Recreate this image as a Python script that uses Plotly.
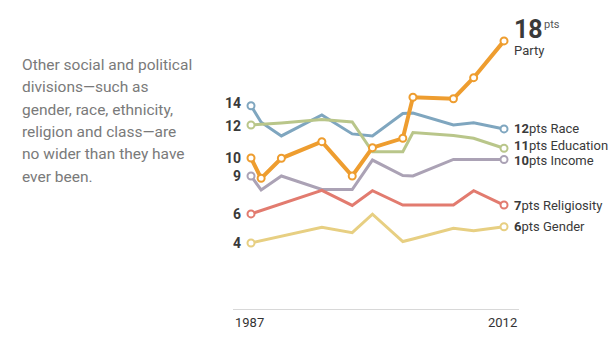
import plotly.graph_objects as go

years = [1987, 1988, 1990, 1994, 1997, 1999, 2002, 2003, 2007, 2009, 2012]

party = [10.23, 8.84, 10.21, 11.35, 9.00, 10.94, 11.58, 14.39, 14.29, 15.73, 18.25]
race = [13.81, 12.68, 11.74, 13.18, 11.88, 11.74, 13.28, 13.31, 12.49, 12.65, 12.22]
education = [12.49, 12.53, 12.63, 12.87, 12.70, 10.66, 10.66, 11.98, 11.77, 11.58, 10.90]
income = [9.00, 8.04, 9.00, 8.07, 8.07, 10.09, 9.03, 9.00, 10.13, 10.13, 10.13]
religiosity = [6.40, 6.63, 7.10, 8.01, 6.98, 7.99, 7.01, 7.01, 7.01, 7.99, 7.01]
gender = [4.41, 4.57, 4.88, 5.49, 5.12, 6.38, 4.51, 4.68, 5.42, 5.25, 5.52]

series_names = ["Race", "Education", "Income", "Religiosity", "Gender"]
series_values = [race, education, income, religiosity, gender]
series_colors = ["#7fa6bf", "#b9c68a", "#aba2b5", "#e27b6f", "#e7cf82"]
start_labels = ["14", "12", "9", "6", "4"]
end_labels = ["12", "11", "10", "7", "6"]
start_shift = [3, -1, 0, 0, 0]
end_shift = [0, 3, -1, 0, 0]

party_color = "#ee9d2f"
party_start_label = "10"
party_end_label = "18"

paragraph = [
    "Other social and political",
    "divisions\u2014such as",
    "gender, race, ethnicity,",
    "religion and class\u2014are",
    "no wider than they have",
    "ever been.",
]

FONT = "Roboto, Arial, sans-serif"

fig = go.Figure()

for name, vals, col in zip(series_names, series_values, series_colors):
    fig.add_trace(go.Scatter(
        x=years, y=vals, mode="lines", line=dict(color=col, width=3),
        hoverinfo="skip", showlegend=False))
    fig.add_trace(go.Scatter(
        x=[years[0], years[-1]], y=[vals[0], vals[-1]], mode="markers",
        marker=dict(size=7, color="white", line=dict(color=col, width=2)),
        hoverinfo="skip", showlegend=False))

fig.add_trace(go.Scatter(
    x=years, y=party, mode="lines+markers",
    line=dict(color=party_color, width=4),
    marker=dict(size=7, color="white", line=dict(color=party_color, width=2)),
    hoverinfo="skip", showlegend=False))

ann = []
# start labels
for vals, lab, sh in zip(series_values, start_labels, start_shift):
    ann.append(dict(x=years[0], y=vals[0], xref="x", yref="y", text="<b>%s</b>" % lab,
                    showarrow=False, xanchor="right", yanchor="middle", xshift=-8, yshift=sh,
                    font=dict(family=FONT, size=14, color="#3a3a3a")))
ann.append(dict(x=years[0], y=party[0], xref="x", yref="y", text="<b>%s</b>" % party_start_label,
                showarrow=False, xanchor="right", yanchor="middle", xshift=-8,
                font=dict(family=FONT, size=14, color="#3a3a3a")))
# end labels
for name, vals, lab, sh in zip(series_names, series_values, end_labels, end_shift):
    ann.append(dict(x=years[-1], y=vals[-1], xref="x", yref="y",
                    text="<b>%s</b>pts %s" % (lab, name),
                    showarrow=False, xanchor="left", yanchor="middle", xshift=8, yshift=sh,
                    font=dict(family=FONT, size=13, color="#3a3a3a")))
# party end label
ann.append(dict(x=years[-1], y=party[-1], xref="x", yref="y", text="<b>%s</b>" % party_end_label,
                showarrow=False, xanchor="left", yanchor="middle", xshift=8, yshift=11,
                font=dict(family=FONT, size=25, color="#3a3a3a")))
ann.append(dict(x=years[-1], y=party[-1], xref="x", yref="y", text="pts",
                showarrow=False, xanchor="left", yanchor="middle", xshift=38, yshift=16,
                font=dict(family=FONT, size=11, color="#555555")))
ann.append(dict(x=years[-1], y=party[-1], xref="x", yref="y", text="Party",
                showarrow=False, xanchor="left", yanchor="middle", xshift=8, yshift=-10,
                font=dict(family=FONT, size=13, color="#3a3a3a")))
# x labels
ann.append(dict(x=0, y=0, xref="paper", yref="paper", text="1987", showarrow=False,
                xanchor="left", yanchor="top", yshift=-4,
                font=dict(family=FONT, size=13, color="#333333")))
ann.append(dict(x=1, y=0, xref="paper", yref="paper", text="2012", showarrow=False,
                xanchor="right", yanchor="top", yshift=-4,
                font=dict(family=FONT, size=13, color="#333333")))
# paragraph (pixel positions, converted below)
for i, line in enumerate(paragraph):
    ann.append(dict(x=20, y=65 + i * 22.3, xref="paper", yref="paper", text=line,
                    showarrow=False, xanchor="left", yanchor="middle",
                    font=dict(family=FONT, size=15.5, color="#7a7a7a")))

W, H = 612, 340
L, R, T, B = 233, 93, 20, 31
pw, ph = W - L - R, H - T - B
for a in ann:
    if a["xref"] == "paper" and a["x"] > 1:
        a["x"] = (a["x"] - L) / pw
        a["y"] = 1 - (a["y"] - T) / ph

fig.update_layout(
    width=W, height=H, margin=dict(l=L, r=R, t=T, b=B),
    paper_bgcolor="white", plot_bgcolor="white",
    xaxis=dict(range=[1985.22, 2013.48], showgrid=False, zeroline=False, showticklabels=False,
               showline=True, linecolor="#d8d8d8", linewidth=1, ticks=""),
    yaxis=dict(range=[-0.11, 19.68], showgrid=False, zeroline=False, showticklabels=False,
               showline=False),
    annotations=ann,
)

fig.write_html("out.html")
